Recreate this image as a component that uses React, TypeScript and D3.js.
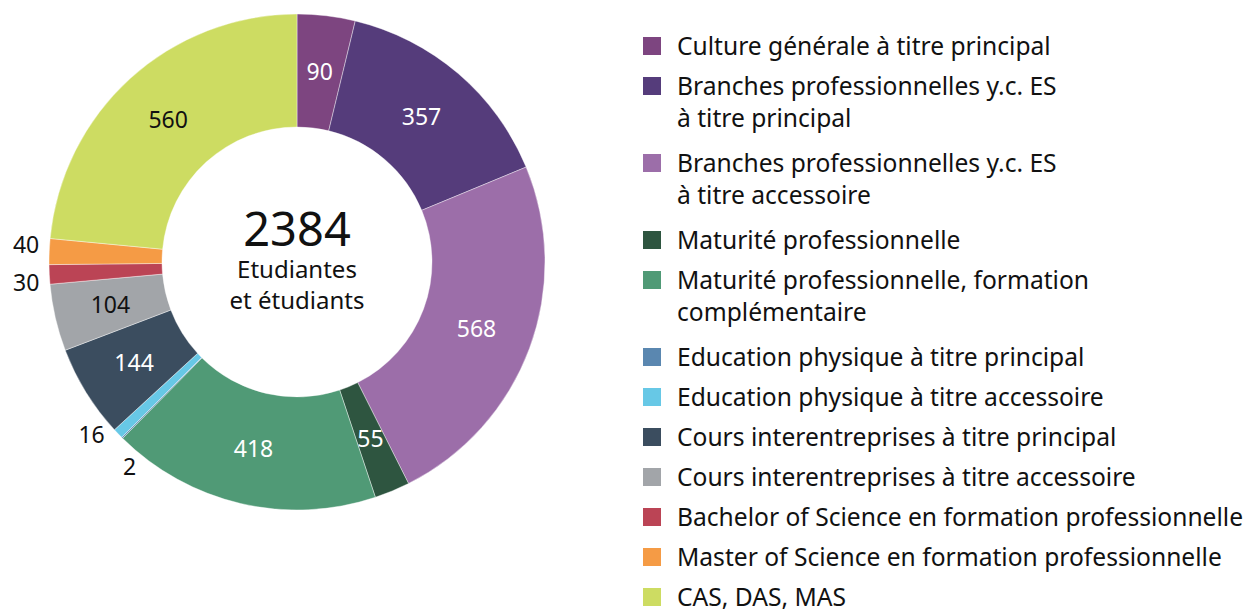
import React from 'react';
import * as d3 from 'd3';

// categories, in pie order (clockwise from 12 o'clock)
const categories = [
  'Culture générale à titre principal',
  'Branches professionnelles y.c. ES\nà titre principal',
  'Branches professionnelles y.c. ES\nà titre accessoire',
  'Maturité professionnelle',
  'Maturité professionnelle, formation\ncomplémentaire',
  'Education physique à titre principal',
  'Education physique à titre accessoire',
  'Cours interentreprises à titre principal',
  'Cours interentreprises à titre accessoire',
  'Bachelor of Science en formation professionnelle',
  'Master of Science en formation professionnelle',
  'CAS, DAS, MAS',
];
const values = [90, 357, 568, 55, 418, 2, 16, 144, 104, 30, 40, 560];
const colors = [
  '#7d4580', '#553c7b', '#9c6ea9', '#2e5540', '#509a76', '#5a87b0',
  '#67c8e6', '#3b4d5f', '#a2a5a9', '#bb4455', '#f59b45', '#cddc62',
];
const totalLabel = '2384';
const centerLines = ['Etudiantes', 'et étudiants'];

const FONT = '"Noto Sans", "Open Sans", sans-serif';

const App = () => {
  const width = 1250;
  const height = 612;
  const cx = 297;
  const cy = 262;
  const outerR = 248;
  const innerR = 135;

  const pie = d3.pie<number>().sort(null).value(d => d);
  const arcs = pie(values);
  const arc = d3.arc<d3.PieArcDatum<number>>().innerRadius(innerR).outerRadius(outerR);

  const darkText = new Set([11, 8]); // slices with black inside labels
  const minInside = 0.12; // radians; smaller slices get outside labels

  // small nudges so the outside labels don't collide
  const outsideNudge: Record<number, [number, number, string]> = {
    5: [8, 22, 'start'],
    6: [-6, -6, 'end'],
    9: [0, 8, 'end'],
    10: [0, -6, 'end'],
  };

  // legend layout
  const legX = 643;
  const textX = 677;
  const rowGap = 40;
  const lineGap = 32;
  let y = 46;
  const legendRows = categories.map((c, i) => {
    const lines = c.split('\n');
    const row = { y, lines, color: colors[i] };
    y += rowGap + (lines.length - 1) * lineGap + (lines.length > 1 ? 5 : 0);
    return row;
  });

  return (
    <svg width={width} height={height} style={{ position: 'absolute', left: 0, top: 0 }} fontFamily={FONT}>
      <g transform={`translate(${cx},${cy})`}>
        {arcs.map((a, i) => (
          <path key={i} d={arc(a) || ''} fill={colors[i]} stroke="#fff" strokeWidth={0.4} />
        ))}
        {arcs.map((a, i) => {
          const span = a.endAngle - a.startAngle;
          if (span >= minInside) {
            const [x, yy] = arc.centroid(a);
            return (
              <text key={i} x={x} y={yy} dy="0.35em" textAnchor="middle" fontSize={23}
                fill={darkText.has(i) ? '#111' : '#fff'}>
                {values[i]}
              </text>
            );
          }
          const mid = (a.startAngle + a.endAngle) / 2;
          const r = outerR + 10;
          const [nx, ny, anchor] = outsideNudge[i] || [0, 0, 'end'];
          return (
            <text key={i} x={r * Math.sin(mid) + nx} y={-r * Math.cos(mid) + ny} dy="0.35em"
              textAnchor={anchor} fontSize={23} fill="#111">
              {values[i]}
            </text>
          );
        })}
        <text x={0} y={-16} textAnchor="middle" fontSize={47} fill="#111">{totalLabel}</text>
        {centerLines.map((l, k) => (
          <text key={k} x={0} y={16 + k * 31} textAnchor="middle" fontSize={24} fill="#111">{l}</text>
        ))}
      </g>
      <g>
        {legendRows.map((r, i) => (
          <g key={i}>
            <rect x={legX} y={r.y - 9} width={18} height={18} fill={r.color} />
            {r.lines.map((l, k) => (
              <text key={k} x={textX} y={r.y + k * lineGap} dy="0.35em" fontSize={24.6} fill="#111">{l}</text>
            ))}
          </g>
        ))}
      </g>
    </svg>
  );
};

export default App;
